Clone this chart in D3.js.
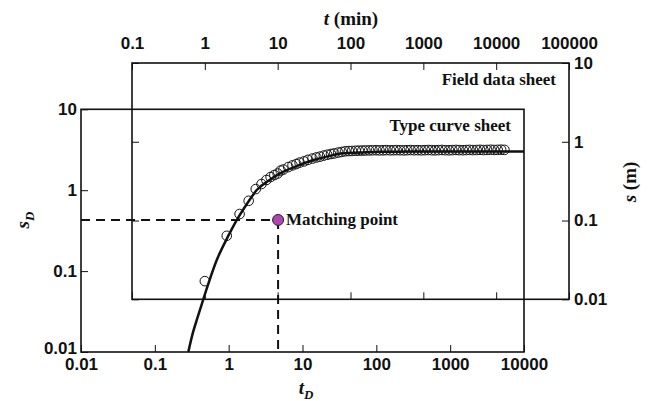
<!DOCTYPE html>
<html>
<head>
<meta charset="utf-8">
<script src="https://cdn.jsdelivr.net/npm/d3@7"></script>
<style>
  body { margin: 0; background: #fff; }
  svg { display: block; }
  .tick text { font-family: "Liberation Sans", Arial, sans-serif; font-weight: bold; font-size: 17px; fill: #111; }
  .tick line { stroke: #111; stroke-width: 1; }
  .serif { font-family: "Liberation Serif", "Times New Roman", serif; font-weight: bold; fill: #111; }
</style>
</head>
<body>
<div id="chart"></div>
<script>
// type curve (tD, sD)
let typeTD = [0.284, 0.322, 0.38, 0.45, 0.69, 1.0, 1.29, 1.8, 2.4, 3.5, 4.97, 8, 14.1, 22, 35.8, 60, 112, 300, 1000, 10000];
let typeSD = [0.01, 0.0163, 0.0269, 0.0439, 0.137, 0.278, 0.429, 0.695, 1.005, 1.32, 1.618, 1.96, 2.36, 2.62, 2.86, 2.92, 2.99, 3.0, 3.0, 3.0];

// field data (t in min, s in m)
let fieldT = [1, 2, 3, 4, 5, 6, 7, 8, 9, 10, 11, 12, 14, 16, 18, 20, 23, 26, 30, 34, 38, 43, 48, 54, 60, 68, 76, 85, 95, 105, 118, 130, 145, 160,
  180, 200, 225, 250, 280, 310, 350, 390, 430, 480, 540, 600, 670, 750, 840, 940, 1050, 1170, 1300, 1450, 1620, 1800, 2000, 2250, 2500,
  2800, 3100, 3500, 3900, 4300, 4800, 5400, 6000, 6700, 7500, 8400, 9400, 10500, 11700, 13000];
let fieldS = [0.017, 0.064, 0.121, 0.178, 0.251, 0.291, 0.327, 0.357, 0.378, 0.395, 0.431, 0.444, 0.477, 0.502, 0.521, 0.544, 0.564, 0.589,
  0.612, 0.632, 0.647, 0.668, 0.684, 0.700, 0.711, 0.730, 0.743, 0.757, 0.762, 0.764, 0.769, 0.771, 0.773, 0.775,
  0.777, 0.779, 0.781, 0.778, 0.780, 0.783, 0.779, 0.781, 0.784, 0.780, 0.778, 0.782, 0.785, 0.780, 0.783, 0.779, 0.782, 0.786, 0.781,
  0.779, 0.783, 0.787, 0.782, 0.780, 0.784, 0.788, 0.783, 0.781, 0.785, 0.789, 0.784, 0.786, 0.790, 0.785, 0.788, 0.792, 0.787, 0.790, 0.793, 0.789];

// matching point in type-curve units (tD, sD)
let matchPoint = [4.67, 0.429];

let typeXTicks = [0.01, 0.1, 1, 10, 100, 1000, 10000];
let typeXLabels = ["0.01", "0.1", "1", "10", "100", "1000", "10000"];
let typeYTicks = [0.01, 0.1, 1, 10];
let typeYLabels = ["0.01", "0.1", "1", "10"];
let fieldXTicks = [0.1, 1, 10, 100, 1000, 10000, 100000];
let fieldXLabels = ["0.1", "1", "10", "100", "1000", "10000", "100000"];
let fieldYTicks = [0.01, 0.1, 1, 10];
let fieldYLabels = ["0.01", "0.1", "1", "10"];

let width = 648, height = 401;

let svg = d3.select("#chart").append("svg")
    .attr("width", width)
    .attr("height", height);

// the two sheets have their own scales
let xT = d3.scaleLog().domain([0.01, 10000]).range([81, 524]);
let yT = d3.scaleLog().domain([0.01, 10]).range([352, 109.3]);
let xF = d3.scaleLog().domain([0.1, 100000]).range([132, 569]);
let yF = d3.scaleLog().domain([0.01, 10]).range([299.3, 63]);

let tk = 7;

function frame(x, y) {
  svg.append("rect")
      .attr("x", x.range()[0])
      .attr("y", y.range()[1])
      .attr("width", x.range()[1] - x.range()[0])
      .attr("height", y.range()[0] - y.range()[1])
      .attr("fill", "none")
      .attr("stroke", "#111")
      .attr("stroke-width", 1.6);
}

function labeler(vals, labels) {
  return function(d) { return labels[vals.indexOf(d)]; };
}

// type curve sheet: axes bottom and left
frame(xT, yT);
svg.append("g")
    .attr("transform", "translate(0," + yT.range()[0] + ")")
    .call(d3.axisBottom(xT).tickValues(typeXTicks).tickSize(-tk).tickPadding(6)
      .tickFormat(labeler(typeXTicks, typeXLabels)))
    .call(g => g.select(".domain").remove());
svg.append("g")
    .attr("transform", "translate(" + xT.range()[0] + ",0)")
    .call(d3.axisLeft(yT).tickValues(typeYTicks).tickSize(-tk).tickPadding(4)
      .tickFormat(labeler(typeYTicks, typeYLabels)))
    .call(g => g.select(".domain").remove())
    // nudge the corner label up, away from the bottom 0.01
    .call(g => g.selectAll(".tick text").filter(d => d === 0.01).attr("dy", "0.06em"));

// field data sheet: labelled top and right, ticks on all sides
frame(xF, yF);
svg.append("g")
    .attr("transform", "translate(0," + yF.range()[1] + ")")
    .call(d3.axisTop(xF).tickValues(fieldXTicks).tickSize(-tk).tickPadding(14)
      .tickFormat(labeler(fieldXTicks, fieldXLabels)))
    .call(g => g.select(".domain").remove());
svg.append("g")
    .attr("transform", "translate(0," + yF.range()[0] + ")")
    .call(d3.axisBottom(xF).tickValues(fieldXTicks).tickSize(-tk).tickFormat(""))
    .call(g => g.select(".domain").remove());
svg.append("g")
    .attr("transform", "translate(" + xF.range()[1] + ",0)")
    .call(d3.axisRight(yF).tickValues(fieldYTicks).tickSize(-tk).tickPadding(5)
      .tickFormat(labeler(fieldYTicks, fieldYLabels)))
    .call(g => g.select(".domain").remove());
svg.append("g")
    .attr("transform", "translate(" + xF.range()[0] + ",0)")
    .call(d3.axisLeft(yF).tickValues(fieldYTicks).tickSize(-tk).tickFormat(""))
    .call(g => g.select(".domain").remove());

// type curve
svg.append("clipPath").attr("id", "typeClip")
  .append("rect")
    .attr("x", xT.range()[0]).attr("y", yT.range()[1])
    .attr("width", xT.range()[1] - xT.range()[0])
    .attr("height", yT.range()[0] - yT.range()[1]);

let curveData = typeTD.map((d, i) => [d, typeSD[i]]);
svg.append("path")
    .datum(curveData)
    .attr("clip-path", "url(#typeClip)")
    .attr("fill", "none")
    .attr("stroke", "#111")
    .attr("stroke-width", 2.5)
    .attr("d", d3.line()
      .x(d => xT(d[0]))
      .y(d => yT(d[1]))
      .curve(d3.curveMonotoneX));

// field data circles
svg.append("g").selectAll("circle")
    .data(fieldT.map((d, i) => [d, fieldS[i]]))
  .join("circle")
    .attr("cx", d => xF(d[0]))
    .attr("cy", d => yF(d[1]))
    .attr("r", 4.8)
    .attr("fill", "none")
    .attr("stroke", "#111")
    .attr("stroke-width", 1);

// matching point with dashed guides
let mx = xT(matchPoint[0]), my = yT(matchPoint[1]);
svg.append("line")
    .attr("x1", xT(0.01)).attr("x2", mx)
    .attr("y1", my).attr("y2", my)
    .attr("stroke", "#111").attr("stroke-width", 2)
    .attr("stroke-dasharray", "9,6");
svg.append("line")
    .attr("x1", mx).attr("x2", mx)
    .attr("y1", my).attr("y2", yT(0.01))
    .attr("stroke", "#111").attr("stroke-width", 2)
    .attr("stroke-dasharray", "9,6");
svg.append("circle")
    .attr("cx", mx).attr("cy", my).attr("r", 5.5)
    .attr("fill", "#b443b4")
    .attr("stroke", "#222").attr("stroke-width", 1);
svg.append("text").attr("class", "serif")
    .attr("x", mx + 8).attr("y", my + 5.5)
    .attr("font-size", 17)
    .text("Matching point");

// sheet names
svg.append("text").attr("class", "serif")
    .attr("x", xT.range()[1] - 13).attr("y", yT.range()[1] + 22)
    .attr("text-anchor", "end").attr("font-size", 17)
    .text("Type curve sheet");
svg.append("text").attr("class", "serif")
    .attr("x", xF.range()[1] - 13).attr("y", yF.range()[1] + 22)
    .attr("text-anchor", "end").attr("font-size", 17)
    .text("Field data sheet");

// axis titles
let tTitle = svg.append("text").attr("class", "serif")
    .attr("x", 351).attr("y", 25)
    .attr("text-anchor", "middle").attr("font-size", 19);
tTitle.append("tspan").attr("font-style", "italic").text("t");
tTitle.append("tspan").text(" (min)");

let tdTitle = svg.append("text").attr("class", "serif")
    .attr("x", 306).attr("y", 394)
    .attr("text-anchor", "middle").attr("font-size", 19);
tdTitle.append("tspan").attr("font-style", "italic").text("t");
tdTitle.append("tspan").attr("font-style", "italic").attr("font-size", 13).attr("dy", 5).text("D");

let sdTitle = svg.append("text").attr("class", "serif")
    .attr("transform", "translate(29,220) rotate(-90)")
    .attr("text-anchor", "middle").attr("font-size", 19);
sdTitle.append("tspan").attr("font-style", "italic").text("s");
sdTitle.append("tspan").attr("font-style", "italic").attr("font-size", 13).attr("dy", 5).text("D");

let sTitle = svg.append("text").attr("class", "serif")
    .attr("transform", "translate(636,182) rotate(-90)")
    .attr("text-anchor", "middle").attr("font-size", 19);
sTitle.append("tspan").attr("font-style", "italic").text("s");
sTitle.append("tspan").text(" (m)");
</script>
</body>
</html>
